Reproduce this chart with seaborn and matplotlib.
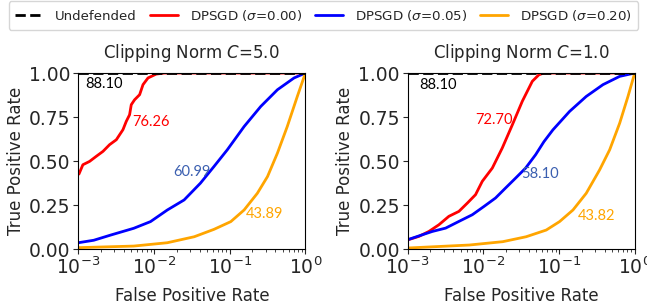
import numpy as np
import pandas as pd
import matplotlib
matplotlib.use("Agg")
import matplotlib.pyplot as plt
import seaborn as sns

# values, left panel (C=5.0)
c5_red_fpr = [0.001, 0.00102, 0.00115, 0.00141, 0.00173, 0.00212, 0.00259, 0.00318, 0.00351, 0.00389,
              0.0043, 0.00476, 0.00501, 0.00554, 0.00646, 0.00716, 0.00834, 0.0107, 0.0138, 1.0]
c5_red_tpr = [0.43, 0.426, 0.479, 0.498, 0.527, 0.555, 0.593, 0.621, 0.649, 0.678,
              0.725, 0.763, 0.82, 0.848, 0.877, 0.934, 0.972, 0.994, 1.0, 1.0]
c5_blue_fpr = [0.001, 0.0016, 0.0027, 0.0054, 0.009, 0.015, 0.025, 0.041, 0.062, 0.093, 0.155,
               0.257, 0.427, 0.708, 1.0]
c5_blue_tpr = [0.036, 0.05, 0.08, 0.118, 0.156, 0.222, 0.279, 0.374, 0.469, 0.564, 0.696,
               0.81, 0.905, 0.972, 1.0]
c5_orange_fpr = [0.001, 0.0054, 0.015, 0.034, 0.062, 0.1035, 0.155, 0.232, 0.316, 0.427, 0.576, 0.782, 1.0]
c5_orange_tpr = [0.008, 0.017, 0.036, 0.07, 0.112, 0.156, 0.222, 0.317, 0.412, 0.545, 0.696, 0.867, 1.0]

# right panel (C=1.0)
c1_red_fpr = [0.001, 0.00102, 0.00141, 0.00191, 0.00259, 0.00351, 0.00476, 0.00615, 0.0079, 0.0097,
              0.01315, 0.0178, 0.0242, 0.0327, 0.0444, 0.0542, 0.0632, 1.0]
c1_red_tpr = [0.05, 0.053, 0.072, 0.10, 0.138, 0.186, 0.214, 0.261, 0.309, 0.385,
              0.46, 0.574, 0.706, 0.839, 0.953, 0.99, 1.0, 1.0]
c1_blue_fpr = [0.001, 0.00156, 0.00212, 0.00318, 0.00476, 0.00716, 0.0102, 0.0145, 0.0197, 0.0267,
               0.0362, 0.0491, 0.0632, 0.083, 0.138, 0.229, 0.381, 0.633, 1.0]
c1_blue_tpr = [0.053, 0.081, 0.10, 0.119, 0.157, 0.195, 0.242, 0.29, 0.347, 0.403,
               0.46, 0.536, 0.61, 0.677, 0.782, 0.867, 0.934, 0.981, 1.0]
c1_orange_fpr = [0.001, 0.00655, 0.0181, 0.0368, 0.0678, 0.1017, 0.153, 0.229, 0.344, 0.467, 0.633, 0.815, 1.0]
c1_orange_tpr = [0.006, 0.023, 0.042, 0.07, 0.108, 0.156, 0.222, 0.317, 0.45, 0.564, 0.715, 0.867, 1.0]

undef_fpr = [0.001, 1.0]
undef_tpr = [1.0, 1.0]

titles = ["Clipping Norm $C$=5.0", "Clipping Norm $C$=1.0"]
labels = ["Undefended", "DPSGD ($\\sigma$=0.00)", "DPSGD ($\\sigma$=0.05)", "DPSGD ($\\sigma$=0.20)"]
aucs = [["88.10", "76.26", "60.99", "43.89"], ["88.10", "72.70", "58.10", "43.82"]]
# annotation anchors (fpr, tpr)
auc_pos = [[(0.00124, 0.94), (0.0052, 0.72), (0.018, 0.44), (0.161, 0.20)],
           [(0.00144, 0.93), (0.0079, 0.733), (0.032, 0.426), (0.176, 0.19)]]

colors = ["black", "red", "blue", "orange"]
text_colors = ["black", "red", "#3b5fb0", "orange"]

panels = [
    [(c5_red_fpr, c5_red_tpr), (c5_blue_fpr, c5_blue_tpr), (c5_orange_fpr, c5_orange_tpr)],
    [(c1_red_fpr, c1_red_tpr), (c1_blue_fpr, c1_blue_tpr), (c1_orange_fpr, c1_orange_tpr)],
]

sns.set_style("ticks")
plt.rcParams["font.family"] = ["DejaVu Sans"]

fig, axes = plt.subplots(1, 2, figsize=(6.47, 3.03), dpi=100)
fig.subplots_adjust(left=0.121, right=0.981, bottom=0.178, top=0.759, wspace=0.45)

for i, ax in enumerate(axes):
    sns.lineplot(x=undef_fpr, y=undef_tpr, ax=ax, color="black", linestyle="--", lw=2,
                 label=labels[0], zorder=3)
    for j, (fx, ty) in enumerate(panels[i]):
        sns.lineplot(x=fx, y=ty, ax=ax, color=colors[j + 1], lw=2, label=labels[j + 1],
                     sort=False, estimator=None, zorder=2)
    ax.set_xscale("log")
    ax.set_xlim(1e-3, 1)
    ax.set_ylim(0, 1.0)
    ax.set_yticks([0, 0.25, 0.5, 0.75, 1.0])
    ax.set_yticklabels(["0.00", "0.25", "0.50", "0.75", "1.00"])
    ax.tick_params(labelsize=13.5, pad=2)
    ax.set_xlabel("False Positive Rate", fontsize=12, labelpad=6)
    ax.set_ylabel("True Positive Rate", fontsize=12, labelpad=3)
    ax.set_title(titles[i], fontsize=12, pad=10.5)
    for k in range(4):
        ax.text(auc_pos[i][k][0], auc_pos[i][k][1], aucs[i][k], color=text_colors[k],
                fontsize=10.5, family="Lato", va="center", ha="left")
    ax.get_legend().remove()
    for s in ax.spines.values():
        s.set_color("black")

handles, labs = axes[0].get_legend_handles_labels()
fig.legend(handles, labs, loc="upper center", ncol=4, bbox_to_anchor=(0.5, 1.0),
           fontsize=9.6, frameon=True, handlelength=2.1, columnspacing=0.95, handletextpad=0.9,
           borderpad=0.5, borderaxespad=0.1)

fig.savefig("out.png", dpi=100)
